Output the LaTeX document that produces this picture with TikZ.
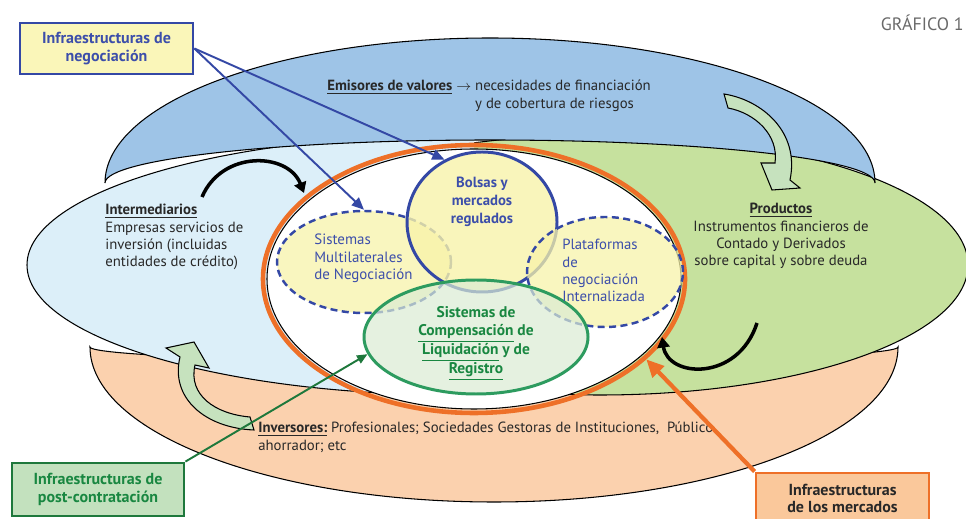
\documentclass[tikz,border=0pt]{standalone}
\usepackage{fontspec}
\setmainfont{PT Sans}
\usetikzlibrary{shapes.geometric,arrows.meta}
\newdimen\pxu \pxu=0.02cm
\newcommand\mlines[2]{\begin{tabular}[t]{@{}#1@{}}#2\end{tabular}}
\definecolor{emiblue}{RGB}{158,196,231}
\definecolor{intblue}{RGB}{220,239,249}
\definecolor{prodgreen}{RGB}{198,225,158}
\definecolor{invpeach}{RGB}{251,209,174}
\definecolor{orng}{RGB}{238,112,40}
\definecolor{dblue}{RGB}{52,72,165}
\definecolor{tblue}{RGB}{60,78,170}
\definecolor{lyellow}{RGB}{248,243,170}
\definecolor{dgreen}{RGB}{45,155,95}
\definecolor{tgreen}{RGB}{25,135,65}
\definecolor{lgreen}{RGB}{218,236,212}
\definecolor{arrgreen}{RGB}{198,226,190}
\definecolor{txt}{RGB}{40,40,40}
\definecolor{boxgreen}{RGB}{195,225,190}
\definecolor{boxgreenline}{RGB}{30,120,60}
\definecolor{boxpeach}{RGB}{250,200,155}
\definecolor{boxyellow}{RGB}{250,246,185}
\definecolor{titlegray}{RGB}{105,105,105}
\begin{document}
\begin{tikzpicture}[x=0.02cm, y=-0.02cm,
  font=\fontsize{8.4}{9.8}\selectfont,
  every node/.style={inner sep=0pt},
  outl/.style={draw=black, line width=0.6pt},
  dashell/.style={ellipse, draw=dblue, line width=1.4pt, dash pattern=on 4pt off 2.5pt, fill=lyellow, fill opacity=0.75},
  box/.style={rectangle, line width=1.6pt, align=center, font=\bfseries\fontsize{9.1}{9.9}\selectfont},
  blockarrow/.style={fill=arrgreen, draw=black, line width=0.6pt, line join=miter},
  blackarr/.style={line width=2pt, -{Triangle[length=6pt,width=7pt]}},
  conblue/.style={draw=dblue, line width=1.1pt, -{Triangle[length=7pt,width=6pt]}},
  congreen/.style={draw=boxgreenline, line width=1.1pt, -{Triangle[length=6pt,width=5pt]}},
  conorange/.style={draw=orng, line width=2.4pt, -{Triangle[length=10pt,width=9pt]}},
  bodytext/.style={text=txt}
]
\useasboundingbox (0,0) rectangle (966,519);
\clip (0,0) rectangle (966,519);

% Inversores (bottom crescent)
\draw[outl, fill=invpeach] (90,347) arc[start angle=180, end angle=360, x radius=404\pxu, y radius=155\pxu]
  arc[start angle=360, end angle=180, x radius=404\pxu, y radius=15\pxu] -- cycle;

% Productos (right ellipse)
\begin{scope}
\clip (474,0) rectangle (966,519);
\draw[outl, fill=prodgreen] (600,265) ellipse [x radius=368\pxu, y radius=130\pxu];
\end{scope}
% Intermediarios (left ellipse)
\begin{scope}
\clip (0,0) rectangle (474,519);
\draw[outl, fill=intblue] (457,265) ellipse [x radius=430\pxu, y radius=130\pxu];
\end{scope}

% Emisores (top crescent)
\draw[outl, fill=emiblue] (105,183) arc[start angle=180, end angle=0, x radius=385\pxu, y radius=145\pxu]
  arc[start angle=0, end angle=180, x radius=385\pxu, y radius=43\pxu] -- cycle;

% block arrow top right
\draw[blockarrow] (724,94) .. controls (762,100) and (800,132) .. (790,180) -- (800,188) -- (772,190) -- (761,163) -- (775,163)
  .. controls (779,135) and (755,113) .. (728,108) -- cycle;

% market infrastructures ellipse
\node[ellipse, draw=black, line width=0.6pt, fill=white, minimum width=414\pxu, minimum height=260\pxu] (innerell) at (474,279) {};
\node[ellipse, draw=orng, line width=2.6pt, minimum width=422\pxu, minimum height=268\pxu] (mkt) at (474,279) {};

% inner systems
\node[dashell, minimum width=174\pxu, minimum height=102\pxu] (mtf) at (364,262) {};
\node[ellipse, draw=dblue, line width=1.7pt, fill=lyellow, fill opacity=0.8, minimum width=150\pxu, minimum height=140\pxu] (bolsas) at (482,222) {};
\node[dashell, minimum width=156\pxu, minimum height=110\pxu] (plat) at (605,272) {};
\node[ellipse, draw=dgreen, line width=1.7pt, fill=lgreen, fill opacity=0.7, minimum width=224\pxu, minimum height=114\pxu] (comp) at (476,337) {};

% texts
\node[anchor=base east, text=titlegray, font=\fontsize{10.2}{12}\selectfont] (title) at (964,31) {GRÁFICO 1};
\node[anchor=base west, bodytext] (emitxt) at (327,91) {\textbf{\underline{Emisores de valores}} $\rightarrow$ \mlines{l}{necesidades de financiación\\y de cobertura de riesgos}};
\node[anchor=base west, bodytext] (inttxt) at (105,215) {\mlines{l}{\textbf{\underline{Intermediarios}}\\Empresas servicios de\\inversión (incluidas\\entidades de crédito)}};
\node[anchor=base, bodytext] (prodtxt) at (781,214) {\mlines{c}{\textbf{\underline{Productos}}\\Instrumentos financieros de\\Contado y Derivados\\sobre capital y sobre deuda}};
\node[anchor=base west, bodytext] (invtxt) at (258,433) {\mlines{l}{\textbf{\underline{Inversores:}} Profesionales; Sociedades Gestoras de Instituciones,~ Público\\ahorrador; etc}};
\node[anchor=base west, text=tblue, font=\fontsize{8.5}{9.9}\selectfont] (mtftxt) at (314,245) {\mlines{l}{Sistemas\\Multilaterales\\de Negociación}};
\node[anchor=base west, text=tblue, font=\fontsize{8.4}{9.7}\selectfont] (plattxt) at (562,250) {\mlines{l}{Plataformas\\de\\negociación\\Internalizada}};
\node[anchor=base, text=tblue, font=\bfseries\fontsize{8.4}{10.2}\selectfont] (bolsastxt) at (482,188) {\mlines{c}{Bolsas y\\mercados\\regulados}};
\node[anchor=base, text=tgreen, font=\bfseries\fontsize{8.8}{10}\selectfont] (comptxt) at (476,318) {\mlines{c}{Sistemas de\\\underline{Compensación} de\\\underline{Liquidación} y de\\\underline{Registro}}};

% black curved arrows
\draw[blackarr] (202,197) .. controls (222,150) and (288,152) .. (304,193);
\draw[blackarr] (757,323) .. controls (738,382) and (668,378) .. (662,337);

% block arrow bottom left
\draw[blockarrow] (250,417) .. controls (215,414) and (188,395) .. (195,365) -- (209,368) -- (194,342) -- (166,348) -- (180,357)
  .. controls (170,398) and (205,428) .. (254,430) -- cycle;

% label boxes
\node[box, draw=dblue, fill=boxyellow, text=tblue, minimum width=173\pxu, minimum height=51\pxu] (neg) at (106.5,48.5) {Infraestructuras de\\negociación};
\node[box, draw=boxgreenline, fill=boxgreen, text=tgreen, minimum width=172\pxu, minimum height=53\pxu] (post) at (98,489.5) {Infraestructuras de\\post-contratación};
\node[box, draw=orng, fill=boxpeach, text=txt, minimum width=173\pxu, minimum height=51\pxu] (merc) at (842.5,498.5) {Infraestructuras\\de los mercados};

% connectors
\draw[conblue] (neg.east) -- (bolsas.121);
\draw[conblue] (neg.east) -- (mtf.north);
\draw[congreen] (post.north east) -- (comp.189);
\draw[conorange] (merc.north west) -- (mkt.-25);
\end{tikzpicture}
\end{document}
